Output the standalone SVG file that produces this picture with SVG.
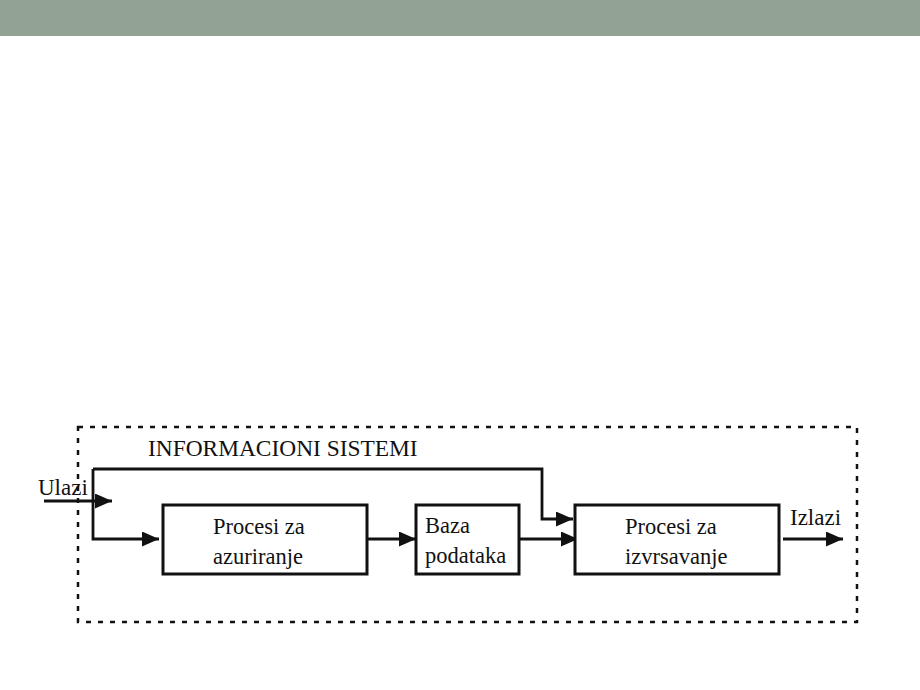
<svg xmlns="http://www.w3.org/2000/svg" width="920" height="690" viewBox="0 0 920 690">
<style>
.t{font-family:"Liberation Serif","Times New Roman",serif;font-size:22.5px;fill:#111}
.lb{font-size:23px}
.box{fill:#fff;stroke:#111;stroke-width:3}
.ln{fill:none;stroke:#111;stroke-width:2.8}
.border{fill:none;stroke:#111;stroke-width:2.5;stroke-dasharray:5 7}
</style>
<defs>
<marker id="ah" viewBox="0 0 17 15" refX="17" refY="7.5" markerWidth="17" markerHeight="15" markerUnits="userSpaceOnUse" orient="auto">
<path d="M0,0 L17,7.5 L0,15 Z" fill="#111"/>
</marker>
</defs>
<rect x="0" y="0" width="920" height="36" fill="#92a396"/>
<rect x="0" y="36" width="920" height="654" fill="#fff"/>
<rect id="system" class="border" x="78" y="427" width="779" height="195"/>
<text class="t" x="148" y="456" style="font-size:23.4px">INFORMACIONI SISTEMI</text>
<g id="connectors">
<path class="ln" d="M44,501 H112" marker-end="url(#ah)"/>
<path class="ln" d="M93,469 V539 H159" marker-end="url(#ah)"/>
<path class="ln" d="M93,469 H542 V519 H573" marker-end="url(#ah)"/>
<path class="ln" d="M367,539 H416" marker-end="url(#ah)"/>
<path class="ln" d="M519,539 H578" marker-end="url(#ah)"/>
<path class="ln" d="M783,539 H843" marker-end="url(#ah)"/>
</g>
<g id="ulazi"><text class="t lb" x="38" y="495">Ulazi</text></g>
<g id="izlazi"><text class="t lb" x="790" y="525">Izlazi</text></g>
<g id="n1">
<rect class="box" x="163" y="505" width="204" height="69"/>
<text class="t" x="213" y="534">Procesi za</text>
<text class="t" x="213" y="564">azuriranje</text>
</g>
<g id="n2">
<rect class="box" x="416" y="505" width="103" height="69"/>
<text class="t" x="425" y="533">Baza</text>
<text class="t" x="425" y="563">podataka</text>
</g>
<g id="n3">
<rect class="box" x="575" y="505" width="204" height="69"/>
<text class="t" x="625" y="534">Procesi za</text>
<text class="t" x="625" y="564">izvrsavanje</text>
</g>
</svg>
